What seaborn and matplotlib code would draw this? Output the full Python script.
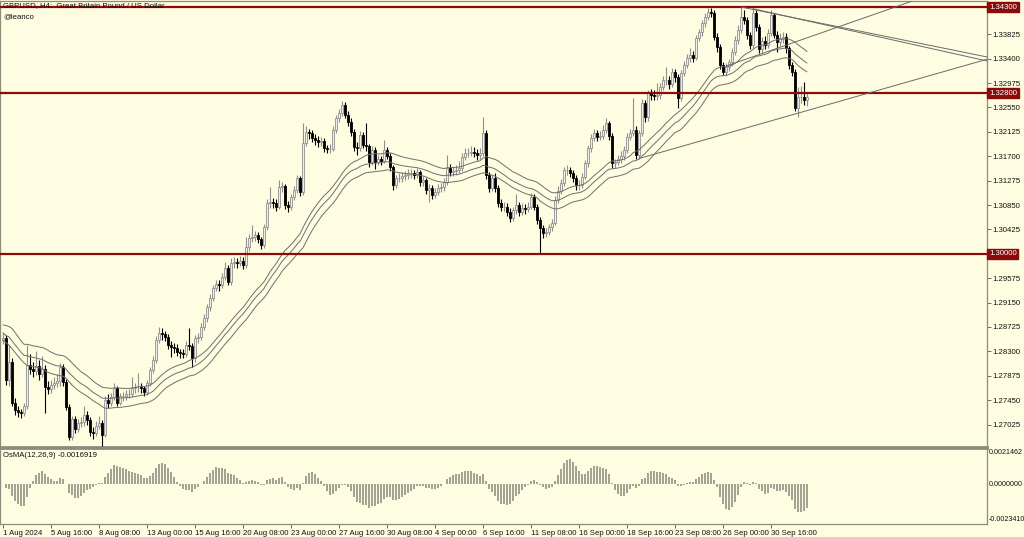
import numpy as np
import pandas as pd
import matplotlib
matplotlib.use("Agg")
import matplotlib.pyplot as plt
import seaborn as sns
from matplotlib.transforms import blended_transform_factory

# ---------------- data ----------------
first_open = 1.2850
close = [
    1.2853, 1.2780, 1.2812, 1.2740, 1.2728, 1.2725, 1.2722, 1.2735, 1.2806, 1.2800,
    1.2795, 1.2805, 1.2790, 1.2800, 1.2768, 1.2765, 1.2772, 1.2775, 1.2778, 1.2803,
    1.2777, 1.2733, 1.2681, 1.2712, 1.2695, 1.2705, 1.2707, 1.2720, 1.2710, 1.2690,
    1.2688, 1.2700, 1.2705, 1.2684, 1.2745, 1.2740, 1.2751, 1.2766, 1.2740, 1.2752,
    1.2752, 1.2755, 1.2755, 1.2766, 1.2768, 1.2768, 1.2766, 1.2759, 1.2775, 1.2798,
    1.2815, 1.2850, 1.2862, 1.2860, 1.2855, 1.2841, 1.2838, 1.2836, 1.2829, 1.2827,
    1.2825, 1.2841, 1.2840, 1.2818, 1.2853, 1.2855, 1.2873, 1.2888, 1.2907, 1.2923,
    1.2940, 1.2948, 1.2945, 1.2960, 1.2975, 1.2951, 1.2984, 1.2986, 1.2984, 1.2988,
    1.2980, 1.3012, 1.3027, 1.3030, 1.3032, 1.3025, 1.3015, 1.3047, 1.3089, 1.3090,
    1.3088, 1.3082, 1.3116, 1.3118, 1.3085, 1.3082, 1.3099, 1.3111, 1.3132, 1.3108,
    1.3193, 1.3212, 1.3210, 1.3202, 1.3198, 1.3195, 1.3196, 1.3184, 1.3182, 1.3183,
    1.3216, 1.3237, 1.3245, 1.3259, 1.3242, 1.3230, 1.3212, 1.3186, 1.3185, 1.3207,
    1.3190, 1.3188, 1.3160, 1.3181, 1.3160, 1.3165, 1.3162, 1.3181, 1.3170, 1.3151,
    1.3120, 1.3132, 1.3132, 1.3135, 1.3138, 1.3140, 1.3140, 1.3138, 1.3142, 1.3125,
    1.3128, 1.3111, 1.3115, 1.3103, 1.3108, 1.3115, 1.3116, 1.3125, 1.3150, 1.3142,
    1.3144, 1.3146, 1.3149, 1.3169, 1.3176, 1.3176, 1.3178, 1.3176, 1.3172, 1.3175,
    1.3210, 1.3137, 1.3115, 1.3132, 1.3115, 1.3088, 1.3082, 1.3082, 1.3073, 1.3063,
    1.3076, 1.3085, 1.3073, 1.3080, 1.3078, 1.3082, 1.3099, 1.3082, 1.3059, 1.3045,
    1.3036, 1.3038, 1.3047, 1.3054, 1.3094, 1.3110, 1.3123, 1.3146, 1.3146, 1.3141,
    1.3132, 1.3120, 1.3120, 1.3134, 1.3158, 1.3184, 1.3202, 1.3210, 1.3204, 1.3206,
    1.3216, 1.3228, 1.3205, 1.3158, 1.3160, 1.3165, 1.3170, 1.3181, 1.3204, 1.3210,
    1.3215, 1.3172, 1.3210, 1.3263, 1.3238, 1.3280, 1.3277, 1.3275, 1.3277, 1.3291,
    1.3303, 1.3303, 1.3296, 1.3317, 1.3308, 1.3271, 1.3315, 1.3329, 1.3341, 1.3346,
    1.3342, 1.3376, 1.3386, 1.3402, 1.3413, 1.3422, 1.3420, 1.3378, 1.3360, 1.3329,
    1.3317, 1.3325, 1.3334, 1.3352, 1.3373, 1.3390, 1.3413, 1.3407, 1.3381, 1.3364,
    1.3420, 1.3395, 1.3357, 1.3370, 1.3364, 1.3385, 1.3416, 1.3382, 1.3369, 1.3376,
    1.3378, 1.3358, 1.3329, 1.3317, 1.3254, 1.3273, 1.3273, 1.3268, 1.3273,
]
high = [
    1.2862, 1.2858, 1.2841, 1.2818, 1.2748, 1.2735, 1.2730, 1.2740, 1.2841, 1.2825,
    1.2812, 1.2830, 1.2815, 1.2822, 1.2806, 1.2778, 1.2780, 1.2785, 1.2790, 1.2810,
    1.2808, 1.2782, 1.2738, 1.2718, 1.2718, 1.2712, 1.2715, 1.2735, 1.2726, 1.2715,
    1.2698, 1.2708, 1.2718, 1.2710, 1.2752, 1.2755, 1.2758, 1.2775, 1.2770, 1.2758,
    1.2760, 1.2762, 1.2765, 1.2785, 1.2775, 1.2792, 1.2775, 1.2770, 1.2780, 1.2803,
    1.2822, 1.2856, 1.2873, 1.2870, 1.2866, 1.2860, 1.2848, 1.2845, 1.2842, 1.2835,
    1.2835, 1.2848, 1.2870, 1.2845, 1.2858, 1.2862, 1.2880, 1.2895, 1.2912, 1.2930,
    1.2946, 1.2955, 1.2955, 1.2966, 1.2985, 1.2980, 1.2992, 1.2995, 1.2992, 1.2996,
    1.2995, 1.3030, 1.3035, 1.3050, 1.3040, 1.3038, 1.3030, 1.3052, 1.3095, 1.3116,
    1.3098, 1.3095, 1.3128, 1.3126, 1.3122, 1.3092, 1.3105, 1.3118, 1.3138, 1.3136,
    1.3228, 1.3222, 1.3218, 1.3215, 1.3208, 1.3205, 1.3204, 1.3202, 1.3190, 1.3192,
    1.3222, 1.3242, 1.3252, 1.3266, 1.3264, 1.3248, 1.3236, 1.3218, 1.3195, 1.3214,
    1.3212, 1.3228, 1.3192, 1.3188, 1.3186, 1.3172, 1.3170, 1.3198, 1.3186, 1.3175,
    1.3155, 1.3138, 1.3140, 1.3142, 1.3145, 1.3148, 1.3148, 1.3146, 1.3150, 1.3146,
    1.3136, 1.3132, 1.3122, 1.3120, 1.3115, 1.3122, 1.3124, 1.3132, 1.3172, 1.3156,
    1.3152, 1.3155, 1.3162, 1.3175, 1.3184, 1.3185, 1.3188, 1.3186, 1.3182, 1.3184,
    1.3238, 1.3215, 1.3142, 1.3138, 1.3140, 1.3120, 1.3095, 1.3090, 1.3088, 1.3080,
    1.3082, 1.3105, 1.3090, 1.3088, 1.3086, 1.3090, 1.3106, 1.3104, 1.3086, 1.3064,
    1.3050, 1.3045, 1.3052, 1.3060, 1.3100, 1.3118, 1.3130, 1.3152, 1.3155, 1.3152,
    1.3146, 1.3137, 1.3128, 1.3140, 1.3164, 1.3190, 1.3208, 1.3218, 1.3215, 1.3214,
    1.3224, 1.3236, 1.3232, 1.3210, 1.3166, 1.3172, 1.3180, 1.3188, 1.3210, 1.3218,
    1.3272, 1.3222, 1.3216, 1.3270, 1.3268, 1.3286, 1.3288, 1.3285, 1.3298, 1.3298,
    1.3310, 1.3325, 1.3310, 1.3324, 1.3322, 1.3314, 1.3320, 1.3336, 1.3348, 1.3358,
    1.3354, 1.3382, 1.3392, 1.3408, 1.3420, 1.3428, 1.3428, 1.3424, 1.3384, 1.3365,
    1.3335, 1.3332, 1.3340, 1.3358, 1.3380, 1.3398, 1.3432, 1.3425, 1.3412, 1.3386,
    1.3428, 1.3424, 1.3400, 1.3378, 1.3380, 1.3392, 1.3424, 1.3420, 1.3388, 1.3384,
    1.3386, 1.3384, 1.3362, 1.3334, 1.3322, 1.3290, 1.3292, 1.3300, 1.3280,
]
low = [
    1.2842, 1.2772, 1.2770, 1.2735, 1.2720, 1.2716, 1.2714, 1.2718, 1.2730, 1.2790,
    1.2785, 1.2788, 1.2780, 1.2785, 1.2722, 1.2755, 1.2758, 1.2765, 1.2768, 1.2770,
    1.2770, 1.2728, 1.2676, 1.2676, 1.2688, 1.2690, 1.2698, 1.2700, 1.2702, 1.2683,
    1.2678, 1.2682, 1.2695, 1.2666, 1.2680, 1.2732, 1.2735, 1.2745, 1.2735, 1.2736,
    1.2744, 1.2746, 1.2748, 1.2750, 1.2758, 1.2760, 1.2758, 1.2752, 1.2754, 1.2770,
    1.2792, 1.2810, 1.2845, 1.2850, 1.2848, 1.2835, 1.2820, 1.2828, 1.2822, 1.2818,
    1.2818, 1.2820, 1.2832, 1.2803, 1.2812, 1.2845, 1.2850, 1.2868, 1.2882, 1.2900,
    1.2918, 1.2935, 1.2936, 1.2940, 1.2955, 1.2945, 1.2946, 1.2976, 1.2975, 1.2978,
    1.2974, 1.2975, 1.3005, 1.3020, 1.3022, 1.3018, 1.3008, 1.3010, 1.3042, 1.3080,
    1.3080, 1.3074, 1.3078, 1.3108, 1.3078, 1.3072, 1.3076, 1.3094, 1.3106, 1.3100,
    1.3102, 1.3188, 1.3200, 1.3195, 1.3190, 1.3186, 1.3188, 1.3178, 1.3175, 1.3176,
    1.3180, 1.3210, 1.3230, 1.3240, 1.3236, 1.3222, 1.3205, 1.3180, 1.3172, 1.3180,
    1.3184, 1.3180, 1.3152, 1.3155, 1.3148, 1.3155, 1.3155, 1.3158, 1.3165, 1.3145,
    1.3112, 1.3114, 1.3125, 1.3126, 1.3128, 1.3130, 1.3132, 1.3130, 1.3132, 1.3118,
    1.3118, 1.3104, 1.3090, 1.3096, 1.3098, 1.3102, 1.3108, 1.3110, 1.3120, 1.3135,
    1.3136, 1.3138, 1.3140, 1.3144, 1.3164, 1.3168, 1.3170, 1.3168, 1.3164, 1.3165,
    1.3170, 1.3130, 1.3108, 1.3110, 1.3108, 1.3082, 1.3075, 1.3074, 1.3066, 1.3056,
    1.3058, 1.3070, 1.3066, 1.3068, 1.3070, 1.3072, 1.3078, 1.3076, 1.3052, 1.3002,
    1.3028, 1.3030, 1.3032, 1.3040, 1.3050, 1.3088, 1.3104, 1.3118, 1.3138, 1.3134,
    1.3125, 1.3112, 1.3112, 1.3115, 1.3130, 1.3152, 1.3178, 1.3196, 1.3196, 1.3198,
    1.3200, 1.3210, 1.3198, 1.3150, 1.3150, 1.3154, 1.3158, 1.3164, 1.3176, 1.3198,
    1.3205, 1.3165, 1.3166, 1.3205, 1.3230, 1.3232, 1.3268, 1.3268, 1.3268, 1.3270,
    1.3285, 1.3295, 1.3288, 1.3290, 1.3300, 1.3254, 1.3266, 1.3310, 1.3324, 1.3335,
    1.3334, 1.3338, 1.3370, 1.3380, 1.3396, 1.3408, 1.3412, 1.3372, 1.3352, 1.3322,
    1.3312, 1.3310, 1.3318, 1.3328, 1.3346, 1.3366, 1.3385, 1.3400, 1.3374, 1.3356,
    1.3358, 1.3388, 1.3350, 1.3350, 1.3356, 1.3358, 1.3380, 1.3376, 1.3352, 1.3362,
    1.3368, 1.3350, 1.3322, 1.3310, 1.3248, 1.3238, 1.3262, 1.3260, 1.3258,
]

date_label_bars = [0, 16, 32, 48, 64, 80, 96, 112, 128, 144, 160, 176, 192, 208, 224, 240, 256]
date_labels = ["1 Aug 2024", "5 Aug 16:00", "8 Aug 08:00", "13 Aug 00:00", "15 Aug 16:00",
               "20 Aug 08:00", "23 Aug 00:00", "27 Aug 16:00", "30 Aug 08:00", "4 Sep 00:00",
               "6 Sep 16:00", "11 Sep 08:00", "16 Sep 00:00", "18 Sep 16:00", "23 Sep 08:00",
               "26 Sep 00:00", "30 Sep 16:00"]
# price grid ticks (1.30000 and 1.34250 sit under the red level boxes)
price_ticks = [1.27025, 1.27450, 1.27875, 1.28300, 1.28725, 1.29150, 1.29575,
               1.30425, 1.30850, 1.31275, 1.31700, 1.32125, 1.32550, 1.32975, 1.33400,
               1.33825]
levels = [1.3430, 1.3280, 1.3000]
osma_ticks = [-0.0023410, 0.0, 0.0021462]
osma_last_text = "OsMA(12,26,9) -0.0016919"
wave_seed = {"high": 1.2877, "close": 1.2863, "low": 1.2850}   # EMA values at first bar
wave_period = 34
# trend lines: (bar, price) anchors
support_line = ([212, 328], [1.3166, 1.3339])
resist_line_1 = ([246, 328], [1.3430, 1.3343])
resist_line_2 = ([250, 328], [1.3427, 1.3336])
rising_line = ([241, 310], [1.3327, 1.3453])

# ---------------- derived ----------------
n = len(close)
assert len(high) == n and len(low) == n
bars = np.arange(n)
c = np.array(close)
o = np.concatenate([[first_open], c[:-1]])
h = np.array(high)
l = np.array(low)
df = pd.DataFrame({"bar": bars, "open": o, "high": h, "low": l, "close": c})


def ema_seeded(values, period, seed):
    a = 2.0 / (period + 1.0)
    out = np.empty(len(values))
    prev = seed
    for i, v in enumerate(values):
        prev = prev + a * (v - prev)
        out[i] = prev
    return out


df["wave_h"] = ema_seeded(h, wave_period, wave_seed["high"])
df["wave_c"] = ema_seeded(c, wave_period, wave_seed["close"])
df["wave_l"] = ema_seeded(l, wave_period, wave_seed["low"])

ema12 = df["close"].ewm(span=12, adjust=False).mean()
ema26 = df["close"].ewm(span=26, adjust=False).mean()
macd = ema12 - ema26
signal = macd.rolling(9, min_periods=1).mean()
df["osma"] = macd - signal

# ---------------- style ----------------
BG = "#fefde2"
FS = 5.6
sns.set_theme(style="white")
plt.rcParams["font.family"] = ["Liberation Sans", "DejaVu Sans"]
plt.rcParams["axes.facecolor"] = BG
plt.rcParams["figure.facecolor"] = BG

W, H = 1024, 537
fig = plt.figure(figsize=(W / 100, H / 100), dpi=100)
right_px = 987
ax = fig.add_axes([0.0, (H - 447) / H, right_px / W, 446 / H])
axo = fig.add_axes([0.0, (H - 524) / H, right_px / W, 76 / H], sharex=ax)

for a in (ax, axo):
    a.set_facecolor(BG)
    for s in a.spines.values():
        s.set_color("#8c8c7c")
        s.set_linewidth(0.9)

ax.spines["bottom"].set_linewidth(2.0)
axo.spines["top"].set_linewidth(2.0)

# ---------------- candles ----------------
bull = df["close"] >= df["open"]
wick_col = np.where(bull, "#8f8f8f", "#000000")
ax.vlines(df["bar"], df["low"], df["high"], colors=wick_col, linewidth=0.8, zorder=3)
body_bottom = np.minimum(df["open"], df["close"])
body_h = np.maximum(np.abs(df["close"] - df["open"]), 0.00004)
ax.bar(df["bar"][bull], body_h[bull], bottom=body_bottom[bull], width=0.66,
       color="#eeeeea", edgecolor="#8f8f8f", linewidth=0.6, zorder=4)
ax.bar(df["bar"][~bull], body_h[~bull], bottom=body_bottom[~bull], width=0.66,
       color="#000000", edgecolor="#000000", linewidth=0.6, zorder=4)

# ---------------- EMA wave ----------------
for col in ("wave_h", "wave_c", "wave_l"):
    sns.lineplot(data=df, x="bar", y=col, ax=ax, color="#6e6e6e", linewidth=0.7, zorder=5)

# ---------------- levels & trend lines ----------------
for lv in levels:
    ax.axhline(lv, color="#8b0a0a", linewidth=1.6, zorder=6)
for xs, ys in (support_line, resist_line_1, resist_line_2, rising_line):
    ax.plot(xs, ys, color="#6a6a6a", linewidth=0.7, zorder=6)

ax.set_xlim(-1, 328)
ax.set_ylim(1.26634, 1.34405)
ax.set_xlabel("")
ax.set_ylabel("")

# right price axis
ax.yaxis.tick_right()
ax.set_yticks(price_ticks)
ax.set_yticklabels([f"{p:.5f}" for p in price_ticks])
ax.tick_params(axis="y", which="both", right=True, length=3, width=0.6, color="#555555",
               labelsize=FS, pad=1, labelcolor="#111111")
ax.tick_params(axis="x", which="both", bottom=False, labelbottom=False)

trans = blended_transform_factory(ax.transAxes, ax.transData)
for lv in levels:
    ax.text(1.002, lv, f"{lv:.5f}", transform=trans, ha="left", va="center",
            fontsize=FS, color="white", zorder=10, clip_on=False,
            bbox=dict(boxstyle="square,pad=0.22", facecolor="#8b0a0a", edgecolor="#8b0a0a"))

ax.text(0.003, 0.997, "GBPUSD, H4:  Great Britain Pound / US Dollar", transform=ax.transAxes,
        ha="left", va="top", fontsize=FS, color="#111111", zorder=11)
ax.text(0.003, 0.973, "@leanco", transform=ax.transAxes, ha="left", va="top",
        fontsize=FS, color="#111111", zorder=11)

# ---------------- OsMA panel ----------------
axo.bar(df["bar"], df["osma"], width=0.38, color="#a3a394", linewidth=0, zorder=3)
axo.set_ylim(-0.00268, 0.00241)
axo.yaxis.tick_right()
axo.set_yticks(osma_ticks)
axo.set_yticklabels([f"{v:.7f}" for v in osma_ticks])
axo.tick_params(axis="y", right=False, length=0, labelsize=5.1, pad=1.5, labelcolor="#111111")
axo.set_xticks(date_label_bars)
axo.set_xticklabels(date_labels)
axo.tick_params(axis="x", bottom=True, length=3, width=0.6, color="#555555", labelsize=FS,
                pad=1.5, labelcolor="#111111")
for t in axo.get_xticklabels():
    t.set_ha("left")
axo.set_xlabel("")
axo.set_ylabel("")
axo.text(0.003, 0.95, osma_last_text, transform=axo.transAxes, ha="left", va="top",
         fontsize=FS, color="#111111")

fig.savefig("out.png", dpi=100, facecolor=BG)
